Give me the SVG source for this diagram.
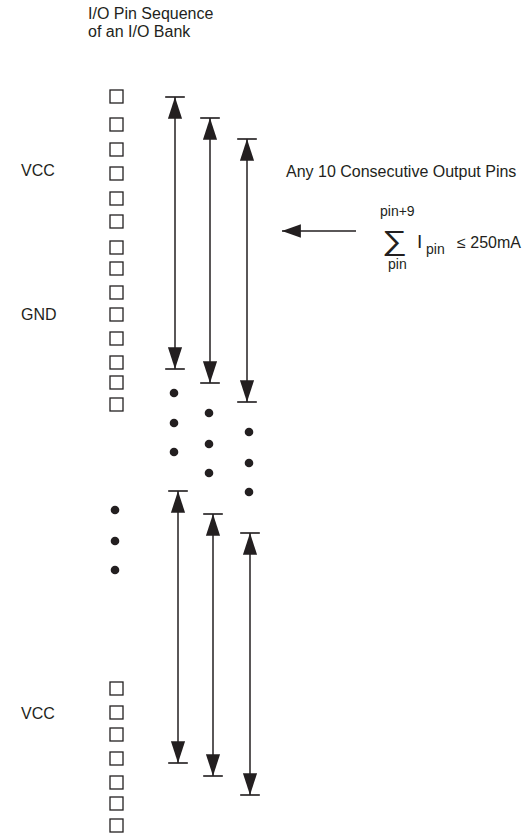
<svg xmlns="http://www.w3.org/2000/svg" width="527" height="835" viewBox="0 0 527 835">
<defs>
<style>
text{font-family:"Liberation Sans","DejaVu Sans",Arial,sans-serif;fill:#231f20;}
.lbl{font-size:16px;}
.sm{font-size:14px;}
.pin{fill:#fff;stroke:#231f20;stroke-width:1.3;}
.dot{fill:#231f20;}
.dim{stroke:#231f20;stroke-width:1.5;fill:none;marker-start:url(#tk);marker-end:url(#tk);}
.ptr{stroke:#231f20;stroke-width:1.5;fill:none;marker-end:url(#ah);}
</style>
<marker id="tk" markerUnits="userSpaceOnUse" orient="auto-start-reverse" refX="20" refY="0" markerWidth="24" markerHeight="24" viewBox="0 -10 22 20" overflow="visible">
<path d="M0,-6.5 L20,0 L0,6.5 Z" fill="#231f20"/>
<path d="M20,-9 L20,9" stroke="#231f20" stroke-width="1.5"/>
</marker>
<marker id="ah" markerUnits="userSpaceOnUse" orient="auto" refX="17" refY="0" markerWidth="20" markerHeight="20" viewBox="0 -7 18 14" overflow="visible">
<path d="M0,-6 L17,0 L0,6 Z" fill="#231f20"/>
</marker>
</defs>
<rect width="527" height="835" fill="#fff"/>

<g id="title">
<text class="lbl" x="88" y="19">I/O Pin Sequence</text>
<text class="lbl" x="88" y="37">of an I/O Bank</text>
</g>

<g id="labels">
<text class="lbl" x="21" y="176">VCC</text>
<text class="lbl" x="21" y="320">GND</text>
<text class="lbl" x="21" y="719">VCC</text>
</g>

<g id="pins-top">
<rect class="pin" x="110" y="90" width="13" height="13"/>
<rect class="pin" x="110" y="118" width="13" height="13"/>
<rect class="pin" x="110" y="143" width="13" height="13"/>
<rect class="pin" x="110" y="167" width="13" height="13"/>
<rect class="pin" x="110" y="192" width="13" height="13"/>
<rect class="pin" x="110" y="215" width="13" height="13"/>
<rect class="pin" x="110" y="241" width="13" height="13"/>
<rect class="pin" x="110" y="262" width="13" height="13"/>
<rect class="pin" x="110" y="286" width="13" height="13"/>
<rect class="pin" x="110" y="308" width="13" height="13"/>
<rect class="pin" x="110" y="332" width="13" height="13"/>
<rect class="pin" x="110" y="356" width="13" height="13"/>
<rect class="pin" x="110" y="376" width="13" height="13"/>
<rect class="pin" x="110" y="398" width="13" height="13"/>
</g>

<g id="pins-bottom">
<rect class="pin" x="110" y="682" width="13" height="13"/>
<rect class="pin" x="110" y="706" width="13" height="13"/>
<rect class="pin" x="110" y="728" width="13" height="13"/>
<rect class="pin" x="110" y="752" width="13" height="13"/>
<rect class="pin" x="110" y="776" width="13" height="13"/>
<rect class="pin" x="110" y="797" width="13" height="13"/>
<rect class="pin" x="110" y="819" width="13" height="13"/>
</g>

<g id="ellipsis">
<circle class="dot" cx="174" cy="393" r="4.3"/>
<circle class="dot" cx="174" cy="423" r="4.3"/>
<circle class="dot" cx="174" cy="452" r="4.3"/>
<circle class="dot" cx="209" cy="413" r="4.3"/>
<circle class="dot" cx="209" cy="444" r="4.3"/>
<circle class="dot" cx="209" cy="473" r="4.3"/>
<circle class="dot" cx="249" cy="432" r="4.3"/>
<circle class="dot" cx="249" cy="463" r="4.3"/>
<circle class="dot" cx="249" cy="492" r="4.3"/>
<circle class="dot" cx="115" cy="510" r="4.3"/>
<circle class="dot" cx="115" cy="541" r="4.3"/>
<circle class="dot" cx="115" cy="570" r="4.3"/>
</g>

<g id="formula">
<text class="lbl" x="286" y="177">Any 10 Consecutive Output Pins</text>
<text class="sm" x="380" y="216">pin+9</text>
<text x="382" y="250" style="font-size:28px" textLength="25" lengthAdjust="spacingAndGlyphs">∑</text>
<text class="lbl" x="417" y="248" style="font-size:19px">I</text>
<text class="sm" x="426" y="254">pin</text>
<text class="lbl" x="457" y="248">≤ 250mA</text>
<text class="sm" x="388" y="269">pin</text>
</g>

<g id="connectors">
<line class="dim" x1="175" y1="97" x2="175" y2="369"/>
<line class="dim" x1="210" y1="118" x2="210" y2="383"/>
<line class="dim" x1="247" y1="139" x2="247" y2="402"/>
<line class="dim" x1="178" y1="491" x2="178" y2="763"/>
<line class="dim" x1="213" y1="514" x2="213" y2="776"/>
<line class="dim" x1="250" y1="533" x2="250" y2="795"/>
<line class="ptr" x1="356" y1="231" x2="282" y2="231"/>
</g>
</svg>
